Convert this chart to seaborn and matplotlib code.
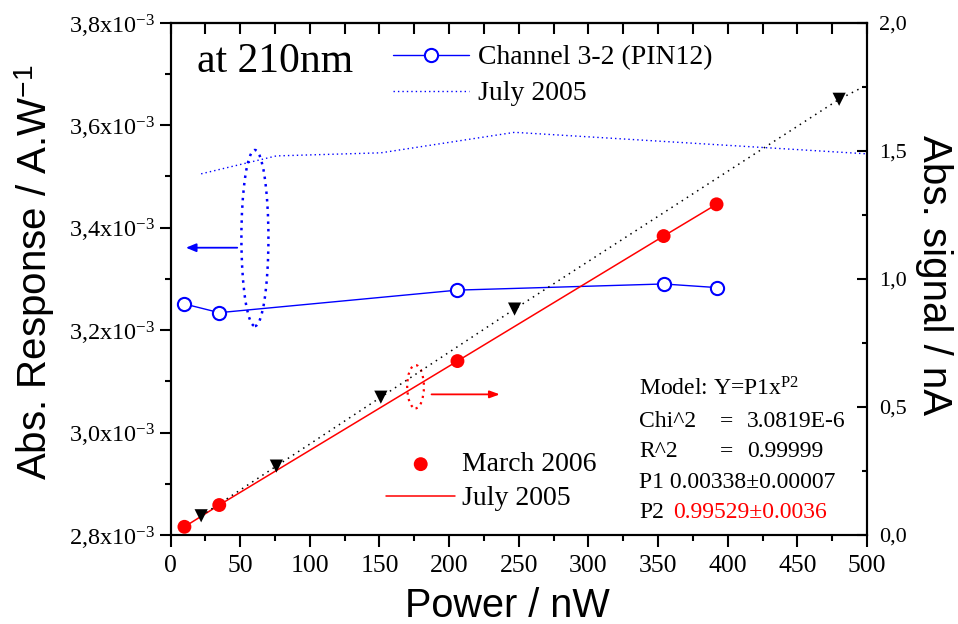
import numpy as np
import pandas as pd
import matplotlib
matplotlib.use("Agg")
import matplotlib.pyplot as plt
import seaborn as sns
from matplotlib.patches import Ellipse
from matplotlib.ticker import FixedLocator, FixedFormatter

# ---------------- data ----------------
power_ch = [10, 35, 206, 354, 392]
resp_ch = [3.251e-3, 3.234e-3, 3.278e-3, 3.290e-3, 3.283e-3]

power_jul_resp = [22, 76, 151, 247, 500]
resp_jul = [3.505e-3, 3.540e-3, 3.546e-3, 3.586e-3, 3.544e-3]

power_mar = [10, 35, 206, 354, 392]
signal_mar = [0.032, 0.117, 0.679, 1.167, 1.291]

power_jul_sig = [22, 76, 151, 247, 480]
signal_jul = [0.075, 0.269, 0.538, 0.882, 1.701]
power_jul_trend = [22, 76, 151, 247, 480, 500]
signal_jul_trend = [0.075, 0.269, 0.538, 0.882, 1.701, 1.757]

x_ticks = [0, 50, 100, 150, 200, 250, 300, 350, 400, 450, 500]
x_tick_labels = [str(v) for v in x_ticks]
left_ticks = [2.8e-3, 3.0e-3, 3.2e-3, 3.4e-3, 3.6e-3, 3.8e-3]
left_tick_labels = [r"2,8x10$^{-3}$", r"3,0x10$^{-3}$", r"3,2x10$^{-3}$",
                    r"3,4x10$^{-3}$", r"3,6x10$^{-3}$", r"3,8x10$^{-3}$"]
right_ticks = [0.0, 0.5, 1.0, 1.5, 2.0]
right_tick_labels = ["0,0", "0,5", "1,0", "1,5", "2,0"]

fit_lines = ["Model: Y=P1x$^{\\mathrm{P2}}$", "Chi^2", "R^2", "P1 0.00338\u00b10.00007", "P2"]

# ---------------- style ----------------
sns.set_style("ticks")
plt.rcParams["font.family"] = ["Liberation Serif", "DejaVu Serif"]
plt.rcParams["mathtext.fontset"] = "custom"
plt.rcParams["mathtext.rm"] = "Liberation Serif"
plt.rcParams["mathtext.it"] = "Liberation Serif:italic"
plt.rcParams["mathtext.sf"] = "Liberation Sans"
for k in ("text.color", "axes.labelcolor", "xtick.color", "ytick.color",
          "axes.edgecolor"):
    plt.rcParams[k] = "black"

W, H = 958, 624
fig = plt.figure(figsize=(W / 100, H / 100), dpi=100)
fig.patch.set_facecolor("white")

L, R, T, B = 170.5, 867.0, 22.7, 535.0
ax = fig.add_axes([L / W, 1 - B / H, (R - L) / W, (B - T) / H])
ax.set_facecolor("white")
ax2 = ax.twinx()

BLUE = "#0000ff"
RED = "#ff0000"

df_ch = pd.DataFrame({"x": power_ch, "y": resp_ch})
df_jr = pd.DataFrame({"x": power_jul_resp, "y": resp_jul})
df_mar = pd.DataFrame({"x": power_mar, "y": signal_mar})
df_js = pd.DataFrame({"x": power_jul_sig, "y": signal_jul})
df_jt = pd.DataFrame({"x": power_jul_trend, "y": signal_jul_trend})

sns.lineplot(data=df_ch, x="x", y="y", ax=ax, color=BLUE, lw=1.0, marker="o",
             markersize=9.5, markerfacecolor="white", markeredgecolor=BLUE,
             markeredgewidth=1.5, label="Channel 3-2 (PIN12)", legend=False)
sns.lineplot(data=df_jr, x="x", y="y", ax=ax, color=BLUE, lw=1.0,
             linestyle=(0, (1, 2.2)), label="July 2005", legend=False)

sns.lineplot(data=df_mar, x="x", y="y", ax=ax2, color=RED, lw=1.1,
             label="July 2005", legend=False)
sns.lineplot(data=df_jt, x="x", y="y", ax=ax2, color="black", lw=1.1,
             linestyle=(0, (1, 3)), legend=False)
sns.scatterplot(data=df_js, x="x", y="y", ax=ax2, marker="v", s=90,
                color="black", edgecolor="none", legend=False, zorder=4)
sns.scatterplot(data=df_mar, x="x", y="y", ax=ax2, marker="o", s=100,
                color=RED, edgecolor="none", label="March 2006", legend=False,
                zorder=5)

# ---------------- axes ----------------
ax.set_xlim(0, 500)
ax.set_ylim(2.8e-3, 3.8e-3)
ax2.set_ylim(0, 2.0)

ax.xaxis.set_major_locator(FixedLocator(x_ticks))
ax.xaxis.set_major_formatter(FixedFormatter(x_tick_labels))
ax.xaxis.set_minor_locator(FixedLocator(np.arange(25, 500, 50)))
ax.yaxis.set_major_locator(FixedLocator(left_ticks))
ax.yaxis.set_major_formatter(FixedFormatter(left_tick_labels))
ax.yaxis.set_minor_locator(FixedLocator(np.arange(2.9e-3, 3.75e-3, 0.2e-3)))
ax2.yaxis.set_major_locator(FixedLocator(right_ticks))
ax2.yaxis.set_major_formatter(FixedFormatter(right_tick_labels))
ax2.yaxis.set_minor_locator(FixedLocator([0.25, 0.75, 1.25, 1.75]))

for a in (ax, ax2):
    for s in a.spines.values():
        s.set_linewidth(1.5)
        s.set_color("black")

ax.tick_params(axis="x", which="major", direction="out", length=8.5, width=1.5,
               labelsize=18.5, pad=6, top=False, colors="black")
ax.tick_params(axis="x", which="minor", direction="out", length=4.5, width=1.5,
               top=False, colors="black")
ax.tick_params(axis="y", which="major", direction="out", length=8, width=1.5,
               labelsize=17.5, pad=3, right=False, colors="black")
ax.tick_params(axis="y", which="minor", direction="out", length=4, width=1.5,
               right=False, colors="black")
ax2.tick_params(axis="y", which="major", direction="in", length=7.5, width=1.5,
                labelsize=16, pad=9, left=False, colors="black")
ax2.tick_params(axis="y", which="minor", direction="in", length=3.8, width=1.5,
                left=False, colors="black")

sec = ax.secondary_xaxis("top")
sec.xaxis.set_major_locator(FixedLocator(x_ticks))
sec.xaxis.set_minor_locator(FixedLocator(np.arange(25, 500, 50)))
sec.tick_params(which="both", direction="in", length=8, width=1.5, labeltop=False,
                colors="black")
sec.spines["top"].set_linewidth(1.5)

# axis labels
ax.set_xlabel("Power / nW", fontfamily="Liberation Sans", fontsize=28.5, color="black")
ax.xaxis.set_label_coords((507 - L) / (R - L), (B - 587) / (B - T))
ax.set_ylabel("Abs. Response / A.W$^{\\mathsf{-1}}$", fontfamily="Liberation Sans",
              fontsize=29, color="black")
ax.yaxis.set_label_coords((57 - L) / (R - L), (B - 272) / (B - T))
ax2.set_ylabel("Abs. signal / nA", fontfamily="Liberation Sans", fontsize=29,
               rotation=270, va="bottom", color="black")
ax2.yaxis.set_label_coords((915 - L) / (R - L), (B - 275) / (B - T))

# ---------------- legends ----------------
h1, l1 = ax.get_legend_handles_labels()
leg1 = ax2.legend(h1, l1, loc="upper left", bbox_to_anchor=(393 / W, 1 - 45 / H),
                  bbox_transform=fig.transFigure, frameon=False, borderpad=0,
                  borderaxespad=0, handlelength=2.75, handletextpad=0.3,
                  labelspacing=0.38, fontsize=20, labelcolor="black")
h2, l2 = ax2.get_legend_handles_labels()
order = [l2.index("March 2006"), l2.index("July 2005")]
leg2 = ax2.legend([h2[i] for i in order], [l2[i] for i in order], loc="upper left",
                  bbox_to_anchor=(386 / W, 1 - 452 / H), bbox_transform=fig.transFigure,
                  frameon=False, borderpad=0, borderaxespad=0, handlelength=2.5,
                  handletextpad=0.24, labelspacing=0.3, fontsize=20, scatterpoints=1,
                  labelcolor="black")
ax2.add_artist(leg1)

# ---------------- annotations ----------------
ax.text(197 / W, 1 - 72 / H, "at 210nm", transform=fig.transFigure, fontsize=30,
        ha="left", va="baseline", color="black")

ax.add_patch(Ellipse((60.6, 3.3797e-3), 19.4, 0.3436e-3, fill=False, edgecolor=BLUE,
                     lw=1.8, linestyle=(0, (1, 2))))
ax.annotate("", xy=(11.1, 3.3608e-3), xytext=(47.9, 3.3608e-3),
            arrowprops=dict(arrowstyle="-|>,head_length=0.6,head_width=0.25",
                            color=BLUE, lw=1.3, shrinkA=0, shrinkB=0))
ax2.add_patch(Ellipse((175.9, 0.579), 12.0, 0.169, fill=False, edgecolor=RED,
                      lw=1.6, linestyle=(0, (1, 2))))
ax2.annotate("", xy=(236.4, 0.549), xytext=(187.4, 0.549),
             arrowprops=dict(arrowstyle="-|>,head_length=0.6,head_width=0.22",
                             color=RED, lw=1.3, shrinkA=0, shrinkB=0))

fs = 17
base = [395, 427, 457, 488, 518]
tx = 639 / W
fig.text(tx, 1 - base[0] / H, fit_lines[0], fontsize=fs, va="baseline")
fig.text(tx, 1 - base[1] / H, fit_lines[1], fontsize=fs, va="baseline")
fig.text(720 / W, 1 - base[1] / H, "=", fontsize=fs, va="baseline")
fig.text(747 / W, 1 - base[1] / H, "3.0819E-6", fontsize=fs, va="baseline")
fig.text(tx, 1 - base[2] / H, fit_lines[2], fontsize=fs, va="baseline")
fig.text(720 / W, 1 - base[2] / H, "=", fontsize=fs, va="baseline")
fig.text(747 / W, 1 - base[2] / H, "0.99999", fontsize=fs, va="baseline")
fig.text(tx, 1 - base[3] / H, fit_lines[3], fontsize=fs, va="baseline")
fig.text(tx, 1 - base[4] / H, fit_lines[4], fontsize=fs, va="baseline")
fig.text(673 / W, 1 - base[4] / H, "0.99529\u00b10.0036", fontsize=fs,
         va="baseline", color=RED)

fig.savefig("out.png", dpi=100)
